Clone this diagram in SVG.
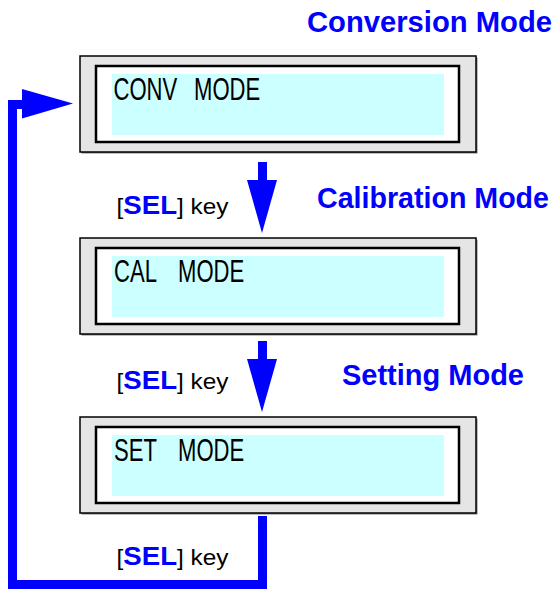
<svg xmlns="http://www.w3.org/2000/svg" width="556" height="589" viewBox="0 0 556 589">
<style>
.shadow{fill:#7f7f7f}
.outer{fill:#e5e5e5;stroke:#000;stroke-width:1.5}
.inner{fill:#fff;stroke:#000;stroke-width:2.5}
.lcd{fill:#ccffff}
.lcdtext{font-family:"Liberation Sans",Arial,sans-serif;font-size:32px;fill:#000}
.title{font-family:"Liberation Sans",Arial,sans-serif;font-size:29px;font-weight:bold;fill:#0000ff}
.key{font-family:"Liberation Sans",Arial,sans-serif;font-size:22px;fill:#000}
.sel{font-weight:bold;font-size:25px;fill:#0000ff}
.flow{fill:#0000ff}
.line{fill:none;stroke:#0000ff;stroke-width:9;stroke-linejoin:miter}
</style>
<g id="title-conv"><text class="title" x="307" y="32" textLength="245" lengthAdjust="spacingAndGlyphs">Conversion Mode</text></g>
<g id="title-cal"><text class="title" x="317" y="208" textLength="232" lengthAdjust="spacingAndGlyphs">Calibration Mode</text></g>
<g id="title-set"><text class="title" x="342" y="385" textLength="182" lengthAdjust="spacingAndGlyphs">Setting Mode</text></g>

<g id="box-conv">
<rect class="shadow" x="81.5" y="57.5" width="396" height="96"/>
<rect class="outer" x="80" y="56" width="396" height="96"/>
<rect class="shadow" x="97" y="67" width="363" height="76"/>
<rect class="inner" x="96" y="66" width="363" height="76"/>
<rect class="lcd" x="112" y="74" width="332" height="61"/>
<text class="lcdtext" transform="scale(0.69,1)" y="100"><tspan x="164.5">CONV</tspan><tspan x="272.3"> MODE</tspan></text>
</g>
<g id="box-cal">
<rect class="shadow" x="81.5" y="239.5" width="396" height="96"/>
<rect class="outer" x="80" y="238" width="396" height="96"/>
<rect class="shadow" x="97" y="249" width="363" height="76"/>
<rect class="inner" x="96" y="248" width="363" height="76"/>
<rect class="lcd" x="112" y="256" width="332" height="61"/>
<text class="lcdtext" transform="scale(0.69,1)" y="282"><tspan x="165.2">CAL</tspan><tspan x="249.1"> MODE</tspan></text>
</g>
<g id="box-set">
<rect class="shadow" x="81.5" y="418.5" width="396" height="96"/>
<rect class="outer" x="80" y="417" width="396" height="96"/>
<rect class="shadow" x="97" y="428" width="363" height="76"/>
<rect class="inner" x="96" y="427" width="363" height="76"/>
<rect class="lcd" x="112" y="435" width="332" height="61"/>
<text class="lcdtext" transform="scale(0.69,1)" y="461"><tspan x="165.2">SET</tspan><tspan x="249.1"> MODE</tspan></text>
</g>

<g id="connectors">
<rect class="flow" x="258" y="162" width="9" height="19"/>
<polygon class="flow" points="247,180 277,180 262,233"/>
<rect class="flow" x="258" y="341" width="9" height="19"/>
<polygon class="flow" points="247,359 277,359 262,412"/>
<path class="line" d="M262.5,516 V584.5 H12.5 V104.5 H24"/>
<polygon class="flow" points="22,89 22,118.5 73,103.5"/>
<text class="key" x="116.5" y="214" textLength="112" lengthAdjust="spacingAndGlyphs">[<tspan class="sel">SEL</tspan>] key</text>
<text class="key" x="116.5" y="389" textLength="112" lengthAdjust="spacingAndGlyphs">[<tspan class="sel">SEL</tspan>] key</text>
<text class="key" x="116.5" y="565" textLength="112" lengthAdjust="spacingAndGlyphs">[<tspan class="sel">SEL</tspan>] key</text>
</g>
</svg>
